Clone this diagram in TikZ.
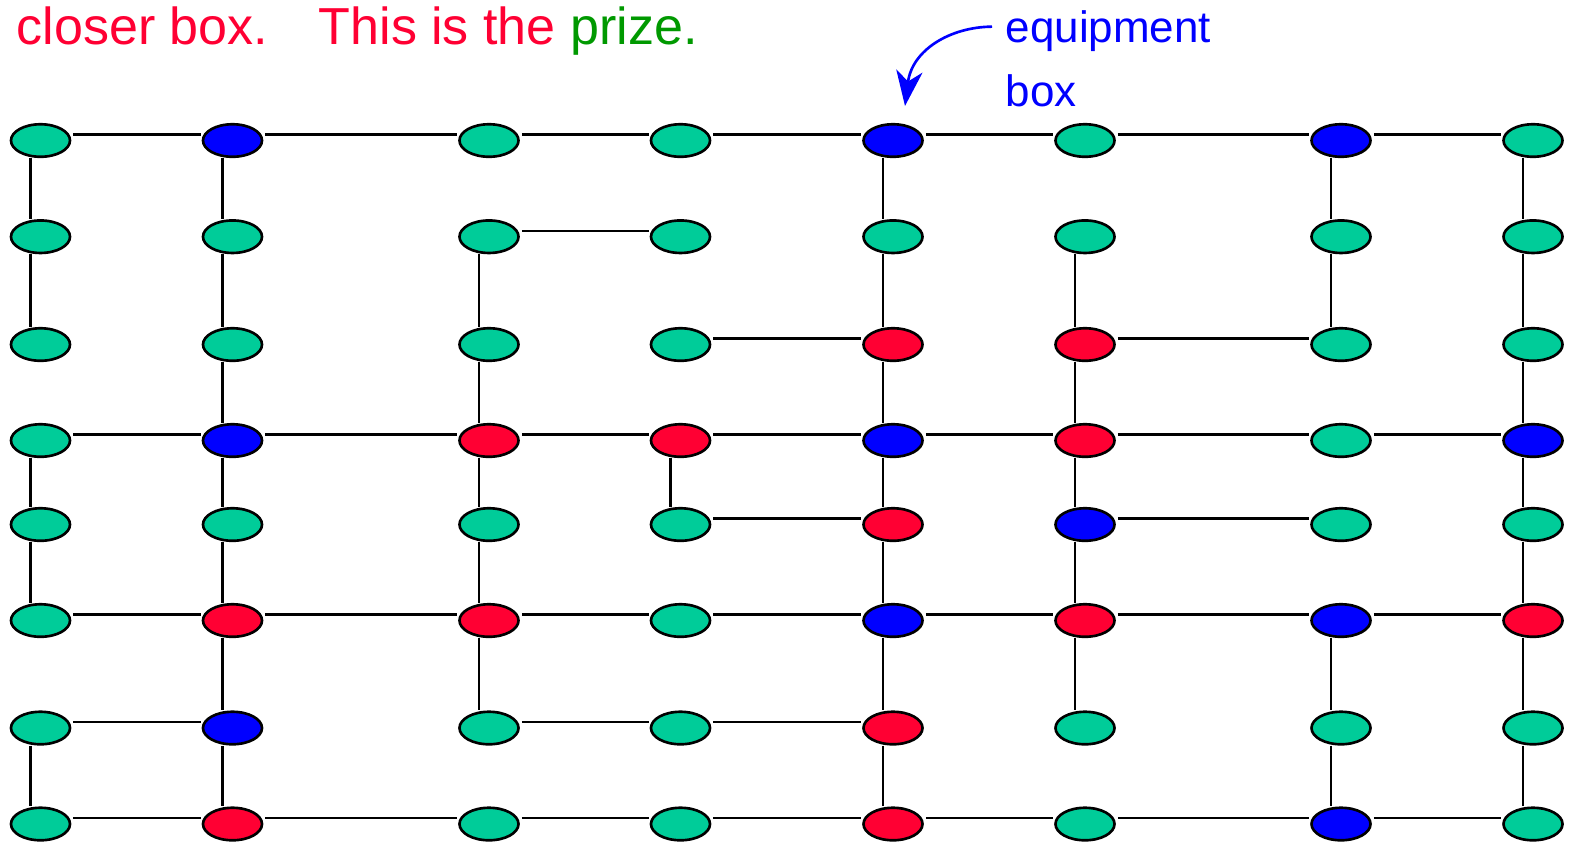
\documentclass[tikz,border=0pt]{standalone}
\usepackage{fontspec}
\setmainfont{Liberation Sans}
\usetikzlibrary{arrows.meta,shapes.geometric,calc}
\definecolor{cgreen}{HTML}{00CC99}
\definecolor{cred}{HTML}{FF0033}
\definecolor{cblue}{HTML}{0000FF}
\definecolor{tgreen}{HTML}{009900}
\tikzset{
  box/.style={ellipse,draw=black,line width=0.75pt,inner sep=0pt,minimum width=0.59cm,minimum height=0.325cm},
  gn/.style={box,fill=cgreen},
  rn/.style={box,fill=cred},
  bn/.style={box,fill=cblue},
  conn/.style={draw=black,line width=0.6pt},
  toptext/.style={anchor=base west,inner sep=0pt,font=\fontsize{14.8}{18}\selectfont},
  eqtext/.style={anchor=base west,inner sep=0pt,font=\fontsize{12.5}{15}\selectfont,text=cblue},
  arr/.style={draw=cblue,line width=0.75pt,-{Stealth[length=10pt,width=7.5pt,inset=3pt]}}
}
\begin{document}
\begin{tikzpicture}[x=0.01cm,y=-0.01cm]
\useasboundingbox (0,0) rectangle (1570,844);
% nodes
\foreach \row [count=\r] in {
  {gn,bn,gn,gn,bn,gn,bn,gn},
  {gn,gn,gn,gn,gn,gn,gn,gn},
  {gn,gn,gn,gn,rn,rn,gn,gn},
  {gn,bn,rn,rn,bn,rn,gn,bn},
  {gn,gn,gn,gn,rn,bn,gn,gn},
  {gn,rn,rn,gn,bn,rn,bn,rn},
  {gn,bn,gn,gn,rn,gn,gn,gn},
  {gn,rn,gn,gn,rn,gn,bn,gn}} {
  \pgfmathsetmacro\yy{{140.5,236.7,344.5,440.5,524.5,620.5,728,824}[\r-1]}
  \foreach \st [count=\c] in \row {
    \pgfmathsetmacro\xx{{40.5,232.5,489,680.5,893,1085,1341,1533}[\c-1]}
    \node[\st] (n-\r-\c) at (\xx,\yy) {};
  }
}
% horizontal connectors: row/col  (col -> col+1)
\foreach \r/\c in {1/1,1/2,1/3,1/4,1/5,1/6,1/7,
                   2/3,
                   3/4,3/6,
                   4/1,4/2,4/3,4/4,4/5,4/6,4/7,
                   5/4,5/6,
                   6/1,6/2,6/3,6/4,6/5,6/6,6/7,
                   7/1,7/3,7/4,
                   8/1,8/2,8/3,8/4,8/5,8/6,8/7} {
  \pgfmathtruncatemacro\cn{\c+1}
  \draw[conn] ([shift={(2,-6)}]n-\r-\c.east) -- ([shift={(-1,-6)}]n-\r-\cn.west);
}
% vertical connectors: col/row (row -> row+1)
\foreach \c/\r in {1/1,1/2,1/4,1/5,1/7,
                   2/1,2/2,2/3,2/4,2/5,2/6,2/7,
                   3/2,3/3,3/4,3/5,3/6,
                   4/4,
                   5/1,5/2,5/3,5/4,5/5,5/6,5/7,
                   6/2,6/3,6/4,6/5,6/6,
                   7/1,7/2,7/6,7/7,
                   8/1,8/2,8/3,8/4,8/5,8/6,8/7} {
  \pgfmathtruncatemacro\rn{\r+1}
  \draw[conn] ([shift={(-10,0)}]n-\r-\c.south) -- ([shift={(-10,0)}]n-\rn-\c.north);
}
% texts
\node[toptext,text=cred] (t1) at (16,44) {closer box.};
\node[toptext,text=cred] (t2) at (318,44) {This is the \textcolor{tgreen}{prize.}};
\node[eqtext] (eq) at (1005,42) {equipment};
\node[eqtext] (eqb) at (1005,106) {box};
\draw[arr] ([shift={(-13,-4)}]eq.west) .. controls (950,27) and (912,50) .. ([shift={(12,-17)}]n-1-5.north);
\end{tikzpicture}
\end{document}
